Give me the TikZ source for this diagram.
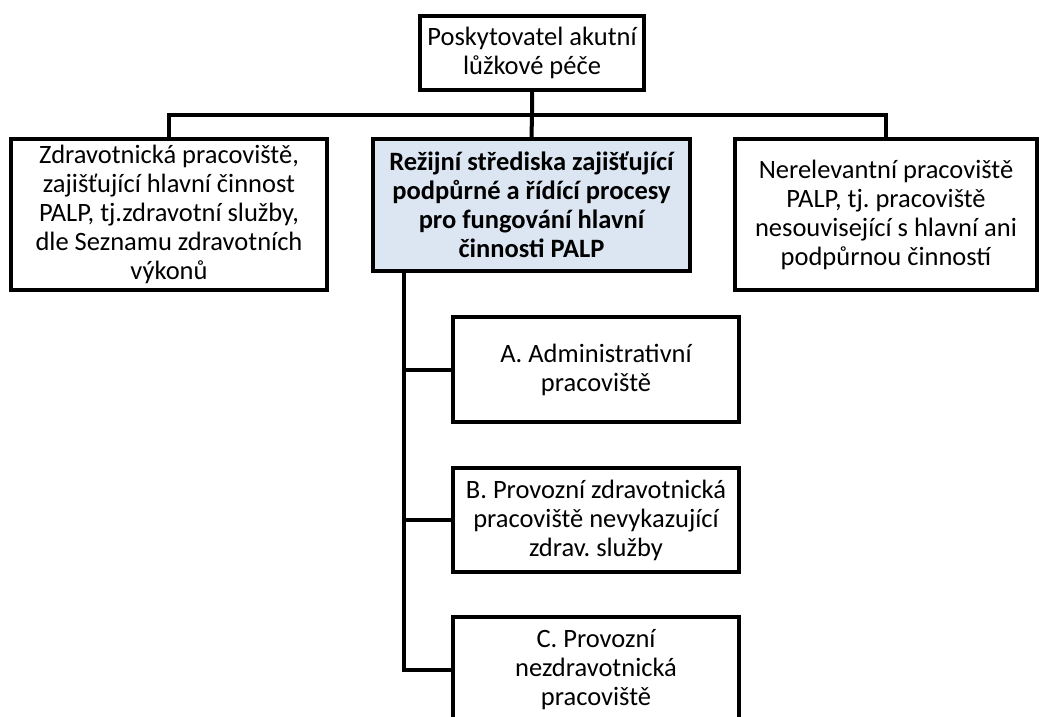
\documentclass[tikz,border=0pt]{standalone}
\usepackage{fontspec}
\setmainfont{Carlito}
\frenchspacing
\definecolor{midfill}{HTML}{DCE6F2}
\begin{document}
\begin{tikzpicture}[x=1pt,y=-1pt,
  box/.style={draw,line width=4pt,align=center,inner sep=0pt,font=\fontsize{26.5}{29}\selectfont},
  link/.style={line width=4pt}]
\useasboundingbox (0,0) rectangle (1041,716);
\clip (0,0) rectangle (1041,716);
\node[box,minimum width=224,minimum height=74] (top) at (532,53) {Poskytovatel akutní\\lůžkové péče};
\node[box,minimum width=316,minimum height=151] (left) at (169,214.5) {Zdravotnická pracoviště,\\zajišťující hlavní činnost\\PALP, tj.zdravotní služby,\\dle Seznamu zdravotních\\výkonů};
\node[box,fill=midfill,minimum width=317,minimum height=132,font=\fontsize{26.5}{29}\selectfont\bfseries] (mid) at (531.5,205) {Režijní střediska zajišťující\\podpůrné a řídící procesy\\pro fungování hlavní\\činnosti PALP};
\node[box,minimum width=302,minimum height=151] (right) at (886,214.5) {Nerelevantní pracoviště\\PALP, tj. pracoviště\\nesouvisející s hlavní ani\\podpůrnou činností};
\node[box,minimum width=286,minimum height=105] (subA) at (596,369.5) {A. Administrativní\\pracoviště};
\node[box,minimum width=286,minimum height=104] (subB) at (596,520) {B. Provozní zdravotnická\\pracoviště nevykazující\\zdrav. služby};
\node[box,minimum width=286,minimum height=106] (subC) at (596,670) {C. Provozní\\nezdravotnická\\pracoviště};
\coordinate (bar) at (532,115);
\coordinate (spine) at (404,271);
\draw[link] (top.south) -- (bar) -- (mid.north);
\draw[link] (left.north) |- (bar) -| (right.north);
\draw[link] (spine) |- (subC.west);
\draw[link] (spine |- subA.west) -- (subA.west);
\draw[link] (spine |- subB.west) -- (subB.west);
\end{tikzpicture}
\end{document}
